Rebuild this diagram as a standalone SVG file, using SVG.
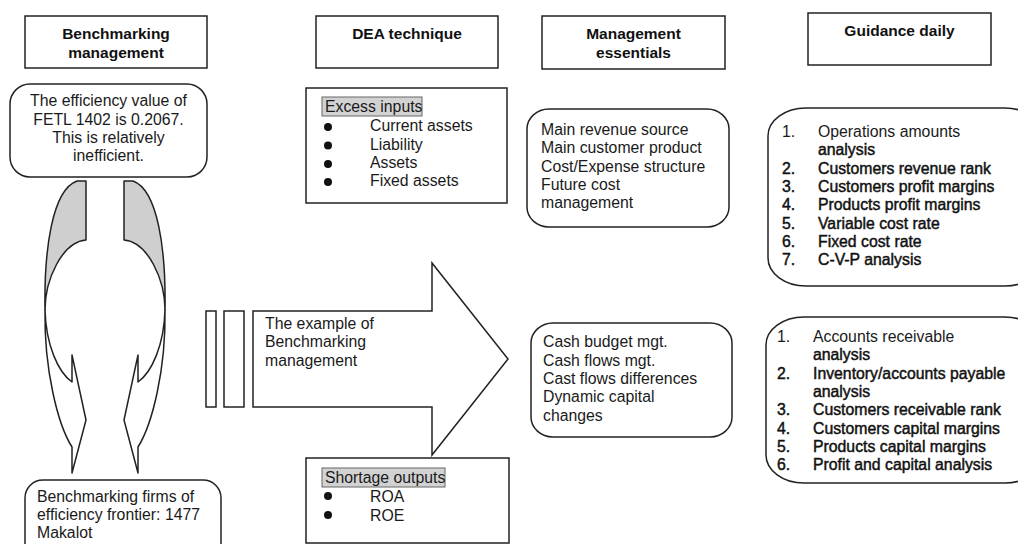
<svg xmlns="http://www.w3.org/2000/svg" width="1018" height="544" viewBox="0 0 1018 544">
<style>
  text { font-family: "Liberation Sans", Arial, sans-serif; fill: #1a1a1a; }
  .h { font-size: 15.5px; font-weight: bold; text-anchor: middle; fill: #111; }
  .t { font-size: 15.8px; }
  .c { text-anchor: middle; }
  .b { stroke: #111; stroke-width: 0.45px; fill: #111; }
  .box { fill: #fff; stroke: #222; stroke-width: 1.5; }
  .hl { fill: #d2d2d2; stroke: #666; stroke-width: 1; }
  .gray { fill: #cfcfcf; stroke: #222; stroke-width: 1.5; stroke-linejoin: round; }
  .band { fill: #fff; stroke: #222; stroke-width: 1.5; stroke-linejoin: round; }
</style>

<g id="hdr-benchmarking">
  <rect class="box" x="25" y="16" width="182" height="52"/>
  <text class="h" x="116" y="39">Benchmarking</text>
  <text class="h" x="116" y="58">management</text>
</g>
<g id="hdr-dea">
  <rect class="box" x="316" y="16" width="182" height="52"/>
  <text class="h" x="407" y="39">DEA technique</text>
</g>
<g id="hdr-management">
  <rect class="box" x="542" y="16" width="183" height="53"/>
  <text class="h" x="633.5" y="39">Management</text>
  <text class="h" x="633.5" y="58">essentials</text>
</g>
<g id="hdr-guidance">
  <rect class="box" x="808" y="13" width="183" height="52"/>
  <text class="h" x="899.5" y="36">Guidance daily</text>
</g>

<g id="efficiency">
  <rect class="box" x="10" y="84" width="197" height="93" rx="20" ry="20"/>
  <text class="t c" x="108.5" y="106">The efficiency value of</text>
  <text class="t c" x="108.5" y="124.5">FETL 1402 is 0.2067.</text>
  <text class="t c" x="108.5" y="143">This is relatively</text>
  <text class="t c" x="108.5" y="161">inefficient.</text>
</g>

<g id="curved-arrows">
  <g id="curved-left">
    <path class="gray" d="M86,181 L86,240 C62,242 45,280 45,310 C44,250 52,190 77,181 Z"/>
    <path class="band" d="M45,310 C44,370 58,425 72,447 L72,473 L86,420 L72,355 L72,382 C58,372 46,345 45,310 Z"/>
  </g>
  <g id="curved-right" transform="matrix(-1 0 0 1 210 0)">
    <path class="gray" d="M86,181 L86,240 C62,242 45,280 45,310 C44,250 52,190 77,181 Z"/>
    <path class="band" d="M45,310 C44,370 58,425 72,447 L72,473 L86,420 L72,355 L72,382 C58,372 46,345 45,310 Z"/>
  </g>
</g>

<g id="firms">
  <rect class="box" x="25" y="480" width="196" height="90" rx="18" ry="18"/>
  <text class="t" x="37" y="502">Benchmarking firms of</text>
  <text class="t" x="37" y="520">efficiency frontier: 1477</text>
  <text class="t" x="37" y="538">Makalot</text>
</g>

<g id="excess">
  <rect class="box" x="306" y="88" width="201" height="115"/>
  <rect class="hl" x="322" y="97" width="100" height="19"/>
  <text class="t" x="325" y="112">Excess inputs</text>
  <circle cx="328" cy="127" r="4" fill="#111"/>
  <circle cx="328" cy="145.5" r="4" fill="#111"/>
  <circle cx="328" cy="164" r="4" fill="#111"/>
  <circle cx="328" cy="182" r="4" fill="#111"/>
  <text class="t" x="370" y="131">Current assets</text>
  <text class="t" x="370" y="149.5">Liability</text>
  <text class="t" x="370" y="168">Assets</text>
  <text class="t" x="370" y="186">Fixed assets</text>
</g>

<g id="big-arrow">
  <rect class="box" x="206" y="311" width="10" height="96"/>
  <rect class="box" x="224" y="311" width="20" height="96"/>
  <polygon class="box" points="253,311 432,311 432,263 508,359 432,455 432,407 253,407" stroke-linejoin="miter"/>
  <text class="t" x="265" y="329">The example of</text>
  <text class="t" x="265" y="347">Benchmarking</text>
  <text class="t" x="265" y="366">management</text>
</g>

<g id="shortage">
  <rect class="box" x="306" y="458" width="203" height="85"/>
  <rect class="hl" x="322" y="468" width="123" height="19"/>
  <text class="t" x="325" y="483">Shortage outputs</text>
  <circle cx="328" cy="496" r="4" fill="#111"/>
  <circle cx="328" cy="515" r="4" fill="#111"/>
  <text class="t" x="370" y="502">ROA</text>
  <text class="t" x="370" y="521">ROE</text>
</g>

<g id="mgmt-1">
  <rect class="box" x="527" y="109" width="202" height="118" rx="22" ry="20"/>
  <text class="t" x="541" y="135">Main revenue source</text>
  <text class="t" x="541" y="153.3">Main customer product</text>
  <text class="t" x="541" y="171.6">Cost/Expense structure</text>
  <text class="t" x="541" y="190">Future cost</text>
  <text class="t" x="541" y="208.3">management</text>
</g>

<g id="mgmt-2">
  <rect class="box" x="531" y="323" width="201" height="114" rx="22" ry="20"/>
  <text class="t" x="543" y="347">Cash budget mgt.</text>
  <text class="t" x="543" y="365.5">Cash flows mgt.</text>
  <text class="t" x="543" y="384">Cast flows differences</text>
  <text class="t" x="543" y="402">Dynamic capital</text>
  <text class="t" x="543" y="420.5">changes</text>
</g>

<g id="guidance-1">
  <rect class="box" x="768" y="108" width="275" height="178" rx="38" ry="28"/>
  <text class="t" x="782" y="137">1.</text>
  <text class="t" x="818" y="137">Operations amounts</text>
  <text class="t b" x="818" y="155.3">analysis</text>
  <text class="t b" x="782" y="173.6">2.</text>
  <text class="t b" x="818" y="173.6">Customers revenue rank</text>
  <text class="t b" x="782" y="192">3.</text>
  <text class="t b" x="818" y="192">Customers profit margins</text>
  <text class="t b" x="782" y="210.3">4.</text>
  <text class="t b" x="818" y="210.3">Products profit margins</text>
  <text class="t b" x="782" y="228.6">5.</text>
  <text class="t b" x="818" y="228.6">Variable cost rate</text>
  <text class="t b" x="782" y="247">6.</text>
  <text class="t b" x="818" y="247">Fixed cost rate</text>
  <text class="t b" x="782" y="265.3">7.</text>
  <text class="t b" x="818" y="265.3">C-V-P analysis</text>
</g>

<g id="guidance-2">
  <rect class="box" x="766" y="317" width="277" height="166" rx="38" ry="28"/>
  <text class="t" x="777" y="342">1.</text>
  <text class="t" x="813" y="342">Accounts receivable</text>
  <text class="t b" x="813" y="360.3">analysis</text>
  <text class="t b" x="777" y="378.6">2.</text>
  <text class="t b" x="813" y="378.6">Inventory/accounts payable</text>
  <text class="t b" x="813" y="397">analysis</text>
  <text class="t b" x="777" y="415.3">3.</text>
  <text class="t b" x="813" y="415.3">Customers receivable rank</text>
  <text class="t b" x="777" y="433.6">4.</text>
  <text class="t b" x="813" y="433.6">Customers capital margins</text>
  <text class="t b" x="777" y="452">5.</text>
  <text class="t b" x="813" y="452">Products capital margins</text>
  <text class="t b" x="777" y="470.3">6.</text>
  <text class="t b" x="813" y="470.3">Profit and capital analysis</text>
</g>
</svg>
